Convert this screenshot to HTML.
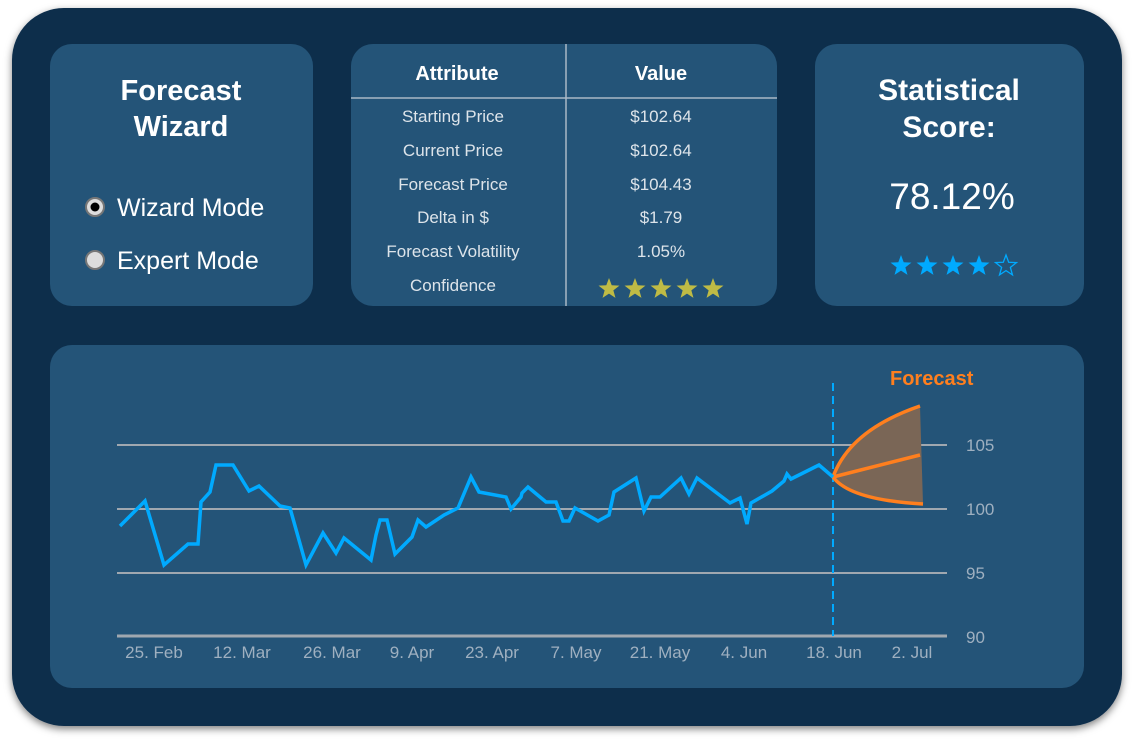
<!DOCTYPE html>
<html><head><meta charset="utf-8"><style>
html,body{margin:0;padding:0;background:#fff;width:1134px;height:744px;overflow:hidden}
text{font-family:"Liberation Sans",sans-serif}
</style></head><body>
<svg width="1134" height="744" viewBox="0 0 1134 744">
<defs>
<polygon id="st" points="0,-11 2.70,-3.72 10.46,-3.40 4.37,1.42 6.47,8.90 0,4.6 -6.47,8.90 -4.37,1.42 -10.46,-3.40 -2.70,-3.72"/>
<filter id="sh" x="-5%" y="-5%" width="110%" height="110%"><feDropShadow dx="0" dy="3" stdDeviation="4" flood-color="#000" flood-opacity="0.5"/></filter>
</defs>
<rect x="12" y="8" width="1110" height="718" rx="52" fill="#0c2d4c" filter="url(#sh)"/>
<rect x="50" y="44" width="263" height="262" rx="22" fill="#245478"/>
<rect x="351" y="44" width="426" height="262" rx="22" fill="#245478"/>
<rect x="815" y="44" width="269" height="262" rx="22" fill="#245478"/>
<rect x="50" y="345" width="1034" height="343" rx="22" fill="#245478"/>

<text x="181" y="100" text-anchor="middle" fill="#fff" font-size="29" font-weight="bold">Forecast</text>
<text x="181" y="136" text-anchor="middle" fill="#fff" font-size="29" font-weight="bold">Wizard</text>
<circle cx="95" cy="207" r="9" fill="#ddd" stroke="#777" stroke-width="2"/>
<circle cx="95" cy="207" r="4.5" fill="#000"/>
<circle cx="95" cy="260" r="9" fill="#ddd" stroke="#777" stroke-width="2"/>
<text x="117" y="216" fill="#fff" font-size="25">Wizard Mode</text>
<text x="117" y="269" fill="#fff" font-size="25">Expert Mode</text>

<text x="457" y="80" text-anchor="middle" fill="#fff" font-size="20" font-weight="bold">Attribute</text>
<text x="661" y="80" text-anchor="middle" fill="#fff" font-size="20" font-weight="bold">Value</text>
<line x1="351" y1="98" x2="777" y2="98" stroke="#aab8c6" stroke-width="1.5"/>
<line x1="566" y1="44" x2="566" y2="306" stroke="#aab8c6" stroke-width="1.5"/>
<g fill="#dde4ea" font-size="17" text-anchor="middle">
<text x="453" y="122">Starting Price</text><text x="661" y="122">$102.64</text>
<text x="453" y="156">Current Price</text><text x="661" y="156">$102.64</text>
<text x="453" y="190">Forecast Price</text><text x="661" y="190">$104.43</text>
<text x="453" y="223">Delta in $</text><text x="661" y="223">$1.79</text>
<text x="453" y="257">Forecast Volatility</text><text x="661" y="257">1.05%</text>
<text x="453" y="291">Confidence</text>
</g>
<g fill="#bfbb45">
<use href="#st" x="609" y="289"/><use href="#st" x="635" y="289"/><use href="#st" x="661" y="289"/><use href="#st" x="687" y="289"/><use href="#st" x="713" y="289"/>
</g>

<text x="949" y="100" text-anchor="middle" fill="#fff" font-size="30" font-weight="bold">Statistical</text>
<text x="949" y="137" text-anchor="middle" fill="#fff" font-size="30" font-weight="bold">Score:</text>
<text x="952" y="209" text-anchor="middle" fill="#fff" font-size="37">78.12%</text>
<g fill="#00aaff">
<use href="#st" x="901" y="266"/><use href="#st" x="927" y="266"/><use href="#st" x="953" y="266"/><use href="#st" x="979" y="266"/>
</g>
<use href="#st" x="1006" y="266" fill="none" stroke="#00aaff" stroke-width="1.3"/>

<g stroke="#a0a8b0" stroke-width="2">
<line x1="117" y1="445" x2="947" y2="445"/>
<line x1="117" y1="509" x2="947" y2="509"/>
<line x1="117" y1="573" x2="947" y2="573"/>
</g>
<line x1="117" y1="636" x2="947" y2="636" stroke="#a0a8b0" stroke-width="3"/>
<g fill="#9fb0c0" font-size="17">
<text x="966" y="451">105</text><text x="966" y="515">100</text><text x="966" y="579">95</text><text x="966" y="643">90</text>
</g>
<g fill="#9fb0c0" font-size="17" text-anchor="middle">
<text x="154" y="658">25. Feb</text><text x="242" y="658">12. Mar</text><text x="332" y="658">26. Mar</text><text x="412" y="658">9. Apr</text><text x="492" y="658">23. Apr</text><text x="576" y="658">7. May</text><text x="660" y="658">21. May</text><text x="744" y="658">4. Jun</text><text x="834" y="658">18. Jun</text><text x="912" y="658">2. Jul</text>
</g>
<line x1="833" y1="383" x2="833" y2="636" stroke="#00aaff" stroke-width="2" stroke-dasharray="8,5"/>
<path d="M833,477 Q850,430 920,406 L923,504 Q850,500 833,477 Z" fill="#7a6656"/>
<path d="M833,477 Q850,430 920,406 M833,477 L920,455 M833,477 Q850,500 923,504" fill="none" stroke="#ff7f1e" stroke-width="3.5"/>
<text x="890" y="385" fill="#ff7f1e" font-size="20" font-weight="bold">Forecast</text>
<polyline fill="none" stroke="#00aaff" stroke-width="3.5" stroke-linejoin="miter" points="120,526 145,501 164,565 188,544 198,544 201,502 210,492 216,465 233,465 249,491 259,486 280,506 290,508 306,565 323,533 336,553 344,538 371,560 376,535 380,520 387,520 395,554 412,537 418,520 426,527 444,515 458,508 471,477 479,492 506,497 511,509 521,497 522,493 528,487 546,502 556,502 563,521 569,521 575,508 598,521 609,515 614,492 636,478 644,511 651,497 660,497 681,478 689,494 697,478 730,503 740,498 747,524 751,503 772,491 784,481 787,474 791,479 819,465 833,477"/>
</svg>
</body></html>
